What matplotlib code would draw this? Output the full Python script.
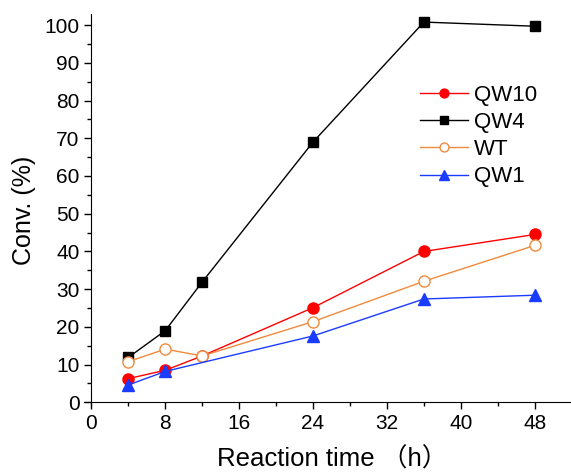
import numpy as np
import matplotlib.pyplot as plt

plt.rcParams['font.family'] = ['Liberation Sans', 'Noto Sans CJK SC', 'DejaVu Sans']

# reaction time (h) and conversion (%)
t_qw10 = [4, 8, 12, 24, 36, 48]
qw10 = [6.3, 8.5, 12.3, 25.1, 40.0, 44.5]
t_qw4 = [4, 8, 12, 24, 36, 48]
qw4 = [11.9, 19.0, 31.9, 69.0, 100.8, 99.7]
t_wt = [4, 8, 12, 24, 36, 48]
wt = [10.8, 14.1, 12.3, 21.4, 32.1, 41.6]
t_qw1 = [4, 8, 24, 36, 48]
qw1 = [4.6, 8.2, 17.6, 27.4, 28.4]

fig = plt.figure(figsize=(5.71, 4.75), dpi=100)
ax = fig.add_axes([0.147, 0.145, 0.851, 0.826])

ax.plot(t_qw10, qw10, '-o', color='red', lw=1, ms=8, mfc='red', mec='red', label='QW10')
ax.plot(t_qw4, qw4, '-s', color='black', lw=1, ms=7, label='QW4')
ax.plot(t_wt, wt, '-o', color='#f08a3c', lw=1, ms=8, mfc='white', mec='#f08a3c', label='WT')
ax.plot(t_qw1, qw1, '-^', color='#1a3cff', lw=1, ms=8.5, mfc='#1a3cff', mec='#1a3cff', label='QW1')

ax.set_xlim(-0.8, 51.8)
ax.set_ylim(-1, 103)
ax.spines['left'].set_position(('data', 0))
ax.spines['bottom'].set_position(('data', 0))
ax.spines['top'].set_visible(False)
ax.spines['right'].set_visible(False)

ax.set_xticks(np.arange(0, 49, 8))
ax.set_xticks(np.arange(4, 52, 8), minor=True)
ax.set_yticks(np.arange(0, 101, 10))
ax.set_yticks(np.arange(5, 101, 10), minor=True)
ax.tick_params(which='major', direction='out', length=5, width=1, labelsize=15)
ax.tick_params(which='minor', direction='out', length=3, width=1)

ax.set_xlabel('Reaction time （h）', fontsize=18.5)
ax.xaxis.set_label_coords(0.51, -0.105)
ax.set_ylabel('Conv. (%)', fontsize=18, labelpad=6)

ax.legend(loc='upper left', bbox_to_anchor=(0.691, 0.819), frameon=False, fontsize=16,
          borderaxespad=0, borderpad=0, markerscale=0.8,
          handlelength=2.16, labelspacing=0.28, handletextpad=0.3)

fig.savefig('out.png', dpi=100)
